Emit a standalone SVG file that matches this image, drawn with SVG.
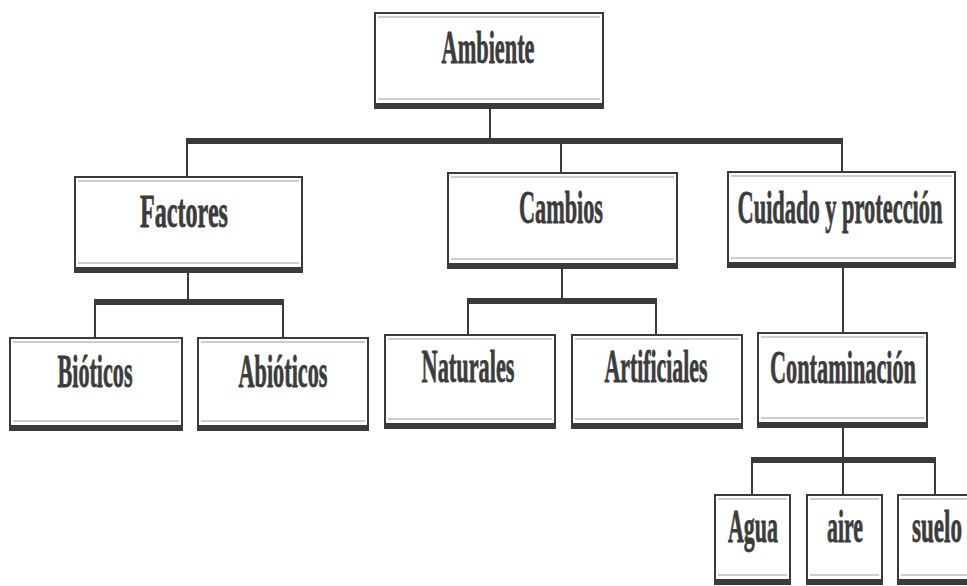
<svg xmlns="http://www.w3.org/2000/svg" width="967" height="586" viewBox="0 0 967 586">
<style>
.box{fill:#fff;stroke:#3a3a3a;stroke-width:2}
.bot{fill:#3a3a3a}
.sh{stroke:#bdbdbd;stroke-width:1.5}
.lbl{font-family:"Liberation Serif","Times New Roman",serif;font-weight:bold;font-size:47px;fill:#3c3c3c;stroke:#3c3c3c;stroke-width:0.8;text-anchor:middle}
.ln{stroke:#3a3a3a;stroke-width:2;fill:none}
.bus{stroke:#3a3a3a;stroke-width:6;fill:none}
</style>
<rect width="967" height="586" fill="#fff"/>
<g id="connectors">
<line class="ln" x1="490" y1="108" x2="490" y2="141"/>
<line class="bus" x1="186" y1="141" x2="843" y2="141"/>
<line class="ln" x1="187" y1="141" x2="187" y2="177"/>
<line class="ln" x1="561" y1="141" x2="561" y2="173"/>
<line class="ln" x1="842" y1="141" x2="842" y2="172"/>
<line class="ln" x1="188" y1="272" x2="188" y2="302"/>
<line class="bus" x1="94" y1="302" x2="284" y2="302"/>
<line class="ln" x1="95" y1="302" x2="95" y2="338"/>
<line class="ln" x1="283" y1="302" x2="283" y2="338"/>
<line class="ln" x1="562" y1="268" x2="562" y2="301"/>
<line class="bus" x1="467" y1="301" x2="657" y2="301"/>
<line class="ln" x1="468" y1="301" x2="468" y2="335"/>
<line class="ln" x1="656" y1="301" x2="656" y2="335"/>
<line class="ln" x1="843" y1="267" x2="843" y2="333"/>
<line class="ln" x1="843" y1="427" x2="843" y2="460"/>
<line class="bus" x1="751" y1="460" x2="936" y2="460"/>
<line class="ln" x1="752" y1="460" x2="752" y2="495"/>
<line class="ln" x1="843" y1="460" x2="843" y2="495"/>
<line class="ln" x1="935" y1="460" x2="935" y2="495"/>
</g>
<g id="ambiente">
<rect class="box" x="375" y="13" width="228" height="95"/>
<line class="sh" x1="378" y1="17" x2="600" y2="17"/><line class="sh" x1="378" y1="99" x2="600" y2="99"/>
<rect class="bot" x="374" y="103" width="230" height="6"/>
<text class="lbl" transform="translate(488 63) scale(0.5 1)" textLength="186" lengthAdjust="spacingAndGlyphs">Ambiente</text>
</g>
<g id="factores">
<rect class="box" x="75" y="177" width="227" height="95"/>
<line class="sh" x1="78" y1="181" x2="299" y2="181"/><line class="sh" x1="78" y1="263" x2="299" y2="263"/>
<rect class="bot" x="74" y="267" width="229" height="6"/>
<text class="lbl" transform="translate(184 227) scale(0.5 1)" textLength="176" lengthAdjust="spacingAndGlyphs">Factores</text>
</g>
<g id="cambios">
<rect class="box" x="448" y="173" width="229" height="95"/>
<line class="sh" x1="451" y1="177" x2="674" y2="177"/><line class="sh" x1="451" y1="259" x2="674" y2="259"/>
<rect class="bot" x="447" y="263" width="231" height="6"/>
<text class="lbl" transform="translate(561 223) scale(0.5 1)" textLength="168" lengthAdjust="spacingAndGlyphs">Cambios</text>
</g>
<g id="cuidado">
<rect class="box" x="728" y="172" width="227" height="95"/>
<line class="sh" x1="731" y1="176" x2="952" y2="176"/><line class="sh" x1="731" y1="258" x2="952" y2="258"/>
<rect class="bot" x="727" y="262" width="229" height="6"/>
<text class="lbl" transform="translate(840 223) scale(0.5 1)" textLength="410" lengthAdjust="spacingAndGlyphs">Cuidado y protección</text>
</g>
<g id="bioticos">
<rect class="box" x="10" y="338" width="172" height="92"/>
<line class="sh" x1="13" y1="342" x2="179" y2="342"/><line class="sh" x1="13" y1="421" x2="179" y2="421"/>
<rect class="bot" x="9" y="425" width="174" height="6"/>
<text class="lbl" transform="translate(95 387) scale(0.5 1)" textLength="150" lengthAdjust="spacingAndGlyphs">Bióticos</text>
</g>
<g id="abioticos">
<rect class="box" x="198" y="338" width="170" height="92"/>
<line class="sh" x1="201" y1="342" x2="365" y2="342"/><line class="sh" x1="201" y1="421" x2="365" y2="421"/>
<rect class="bot" x="197" y="425" width="172" height="6"/>
<text class="lbl" transform="translate(283 387) scale(0.5 1)" textLength="178" lengthAdjust="spacingAndGlyphs">Abióticos</text>
</g>
<g id="naturales">
<rect class="box" x="385" y="335" width="170" height="93"/>
<line class="sh" x1="388" y1="339" x2="552" y2="339"/><line class="sh" x1="388" y1="419" x2="552" y2="419"/>
<rect class="bot" x="384" y="423" width="172" height="6"/>
<text class="lbl" transform="translate(468 382) scale(0.5 1)" textLength="186" lengthAdjust="spacingAndGlyphs">Naturales</text>
</g>
<g id="artificiales">
<rect class="box" x="572" y="335" width="170" height="93"/>
<line class="sh" x1="575" y1="339" x2="739" y2="339"/><line class="sh" x1="575" y1="419" x2="739" y2="419"/>
<rect class="bot" x="571" y="423" width="172" height="6"/>
<text class="lbl" transform="translate(656 382) scale(0.5 1)" textLength="206" lengthAdjust="spacingAndGlyphs">Artificiales</text>
</g>
<g id="contaminacion">
<rect class="box" x="758" y="333" width="169" height="94"/>
<line class="sh" x1="761" y1="337" x2="924" y2="337"/><line class="sh" x1="761" y1="418" x2="924" y2="418"/>
<rect class="bot" x="757" y="422" width="171" height="6"/>
<text class="lbl" transform="translate(843 383) scale(0.5 1)" textLength="292" lengthAdjust="spacingAndGlyphs">Contaminación</text>
</g>
<g id="agua">
<rect class="box" x="715" y="495" width="75" height="89"/>
<line class="sh" x1="718" y1="499" x2="787" y2="499"/><line class="sh" x1="718" y1="575" x2="787" y2="575"/>
<rect class="bot" x="714" y="579" width="77" height="6"/>
<text class="lbl" transform="translate(753 542) scale(0.5 1)" textLength="100" lengthAdjust="spacingAndGlyphs">Agua</text>
</g>
<g id="aire">
<rect class="box" x="807" y="495" width="75" height="89"/>
<line class="sh" x1="810" y1="499" x2="879" y2="499"/><line class="sh" x1="810" y1="575" x2="879" y2="575"/>
<rect class="bot" x="806" y="579" width="77" height="6"/>
<text class="lbl" transform="translate(845 542) scale(0.5 1)" textLength="72" lengthAdjust="spacingAndGlyphs">aire</text>
</g>
<g id="suelo">
<rect class="box" x="898" y="495" width="80" height="89"/>
<line class="sh" x1="901" y1="499" x2="967" y2="499"/><line class="sh" x1="901" y1="575" x2="967" y2="575"/>
<rect class="bot" x="897" y="579" width="80" height="6"/>
<text class="lbl" transform="translate(937 542) scale(0.5 1)" textLength="100" lengthAdjust="spacingAndGlyphs">suelo</text>
</g>
</svg>
